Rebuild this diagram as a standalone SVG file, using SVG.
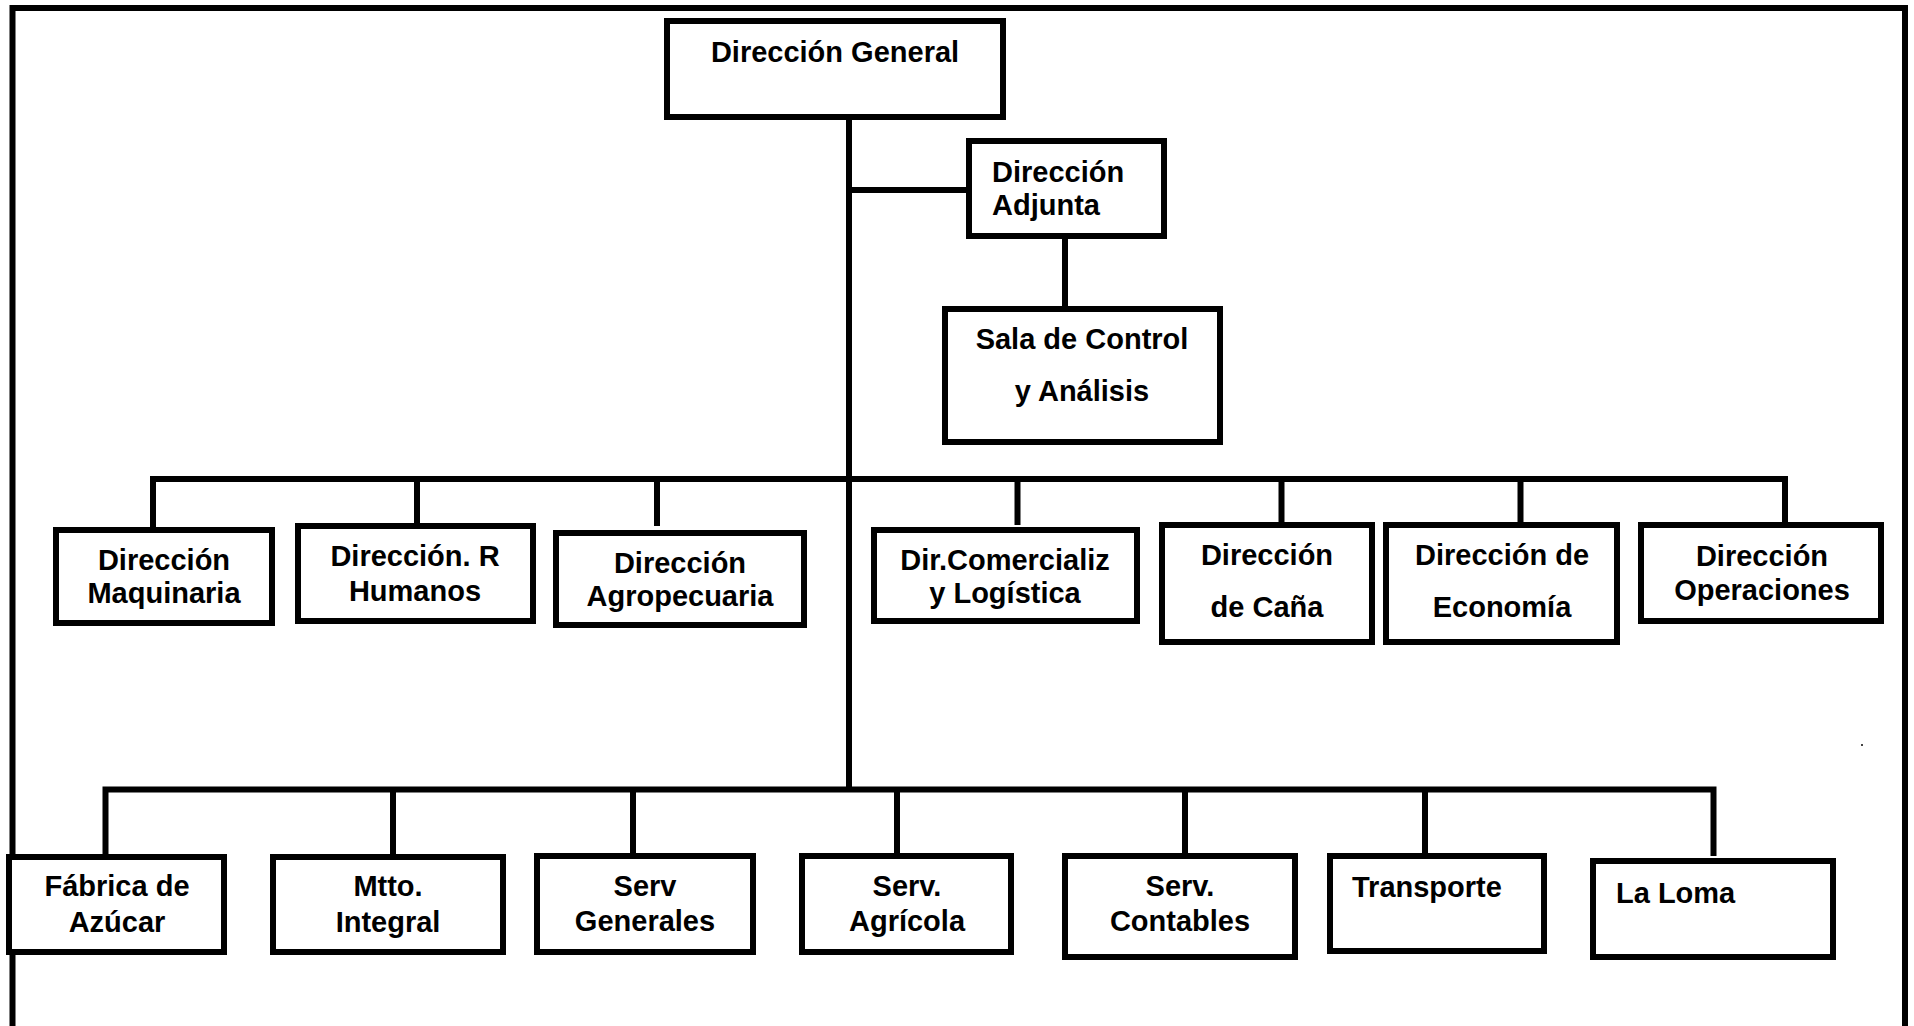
<svg xmlns="http://www.w3.org/2000/svg" width="1914" height="1026" viewBox="0 0 1914 1026">
<style>
.box{fill:#fff;stroke:#000;stroke-width:6}
.ln{fill:none;stroke:#000;stroke-width:6;stroke-linejoin:miter}
text{font-family:"Liberation Sans",Arial,sans-serif;font-weight:bold;font-size:29px;fill:#000}
.c{text-anchor:middle}
</style>
<rect width="1914" height="1026" fill="#fff"/>
<g id="frame">
<path class="ln" d="M12.5,1026 V8 H1905 V1026"/>
</g>
<g id="connectors">
<path class="ln" d="M849,117 V790"/>
<path class="ln" d="M849,190 H969"/>
<path class="ln" d="M1065,236 V309"/>
<path class="ln" d="M153,530 V479 H1785 V525"/>
<path class="ln" d="M417,479 V526"/>
<path class="ln" d="M657,479 V526"/>
<path class="ln" d="M1017.5,479 V525"/>
<path class="ln" d="M1281.5,479 V525"/>
<path class="ln" d="M1520.5,479 V525"/>
<path class="ln" d="M105.5,857 V789.5 H1713.5 V856"/>
<path class="ln" d="M393,789.5 V857"/>
<path class="ln" d="M633,789.5 V856"/>
<path class="ln" d="M897,789.5 V856"/>
<path class="ln" d="M1185,789.5 V856"/>
<path class="ln" d="M1425,789.5 V861"/>
</g>
<g id="n-direccion-general">
<rect class="box" x="667" y="21" width="336" height="96"/>
<text class="c" x="835" y="62">Dirección General</text>
</g>
<g id="n-direccion-adjunta">
<rect class="box" x="969" y="141" width="195" height="95"/>
<text x="992" y="182">Dirección</text>
<text x="992" y="215">Adjunta</text>
</g>
<g id="n-sala-control">
<rect class="box" x="945" y="309" width="275" height="133"/>
<text class="c" x="1082" y="349">Sala de Control</text>
<text class="c" x="1082" y="401">y Análisis</text>
</g>
<g id="n-maquinaria">
<rect class="box" x="56" y="530" width="216" height="93"/>
<text class="c" x="164" y="570">Dirección</text>
<text class="c" x="164" y="603">Maquinaria</text>
</g>
<g id="n-rhumanos">
<rect class="box" x="298" y="526" width="235" height="95"/>
<text class="c" x="415" y="566">Dirección. R</text>
<text class="c" x="415" y="601">Humanos</text>
</g>
<g id="n-agropecuaria">
<rect class="box" x="556" y="533" width="248" height="92"/>
<text class="c" x="680" y="573">Dirección</text>
<text class="c" x="680" y="606">Agropecuaria</text>
</g>
<g id="n-comercializ">
<rect class="box" x="874" y="530" width="263" height="91"/>
<text class="c" x="1005" y="570">Dir.Comercializ</text>
<text class="c" x="1005" y="603">y Logística</text>
</g>
<g id="n-cana">
<rect class="box" x="1162" y="525" width="210" height="117"/>
<text class="c" x="1267" y="565">Dirección</text>
<text class="c" x="1267" y="617">de Caña</text>
</g>
<g id="n-economia">
<rect class="box" x="1386" y="525" width="231" height="117"/>
<text class="c" x="1502" y="565">Dirección de</text>
<text class="c" x="1502" y="617">Economía</text>
</g>
<g id="n-operaciones">
<rect class="box" x="1641" y="525" width="240" height="96"/>
<text class="c" x="1762" y="566">Dirección</text>
<text class="c" x="1762" y="600">Operaciones</text>
</g>
<g id="n-fabrica">
<rect class="box" x="9" y="857" width="215" height="95"/>
<text class="c" x="117" y="896">Fábrica de</text>
<text class="c" x="117" y="932">Azúcar</text>
</g>
<g id="n-mtto">
<rect class="box" x="273" y="857" width="230" height="95"/>
<text class="c" x="388" y="896">Mtto.</text>
<text class="c" x="388" y="932">Integral</text>
</g>
<g id="n-serv-generales">
<rect class="box" x="537" y="856" width="216" height="96"/>
<text class="c" x="645" y="896">Serv</text>
<text class="c" x="645" y="931">Generales</text>
</g>
<g id="n-serv-agricola">
<rect class="box" x="802" y="856" width="209" height="96"/>
<text class="c" x="907" y="896">Serv.</text>
<text class="c" x="907" y="931">Agrícola</text>
</g>
<g id="n-serv-contables">
<rect class="box" x="1065" y="856" width="230" height="101"/>
<text class="c" x="1180" y="896">Serv.</text>
<text class="c" x="1180" y="931">Contables</text>
</g>
<g id="n-transporte">
<rect class="box" x="1330" y="856" width="214" height="95"/>
<text x="1352" y="897">Transporte</text>
</g>
<g id="n-la-loma">
<rect class="box" x="1593" y="861" width="240" height="96"/>
<text x="1616" y="903">La Loma</text>
</g>
<rect x="1861" y="744" width="2" height="2" fill="#444"/>
</svg>
